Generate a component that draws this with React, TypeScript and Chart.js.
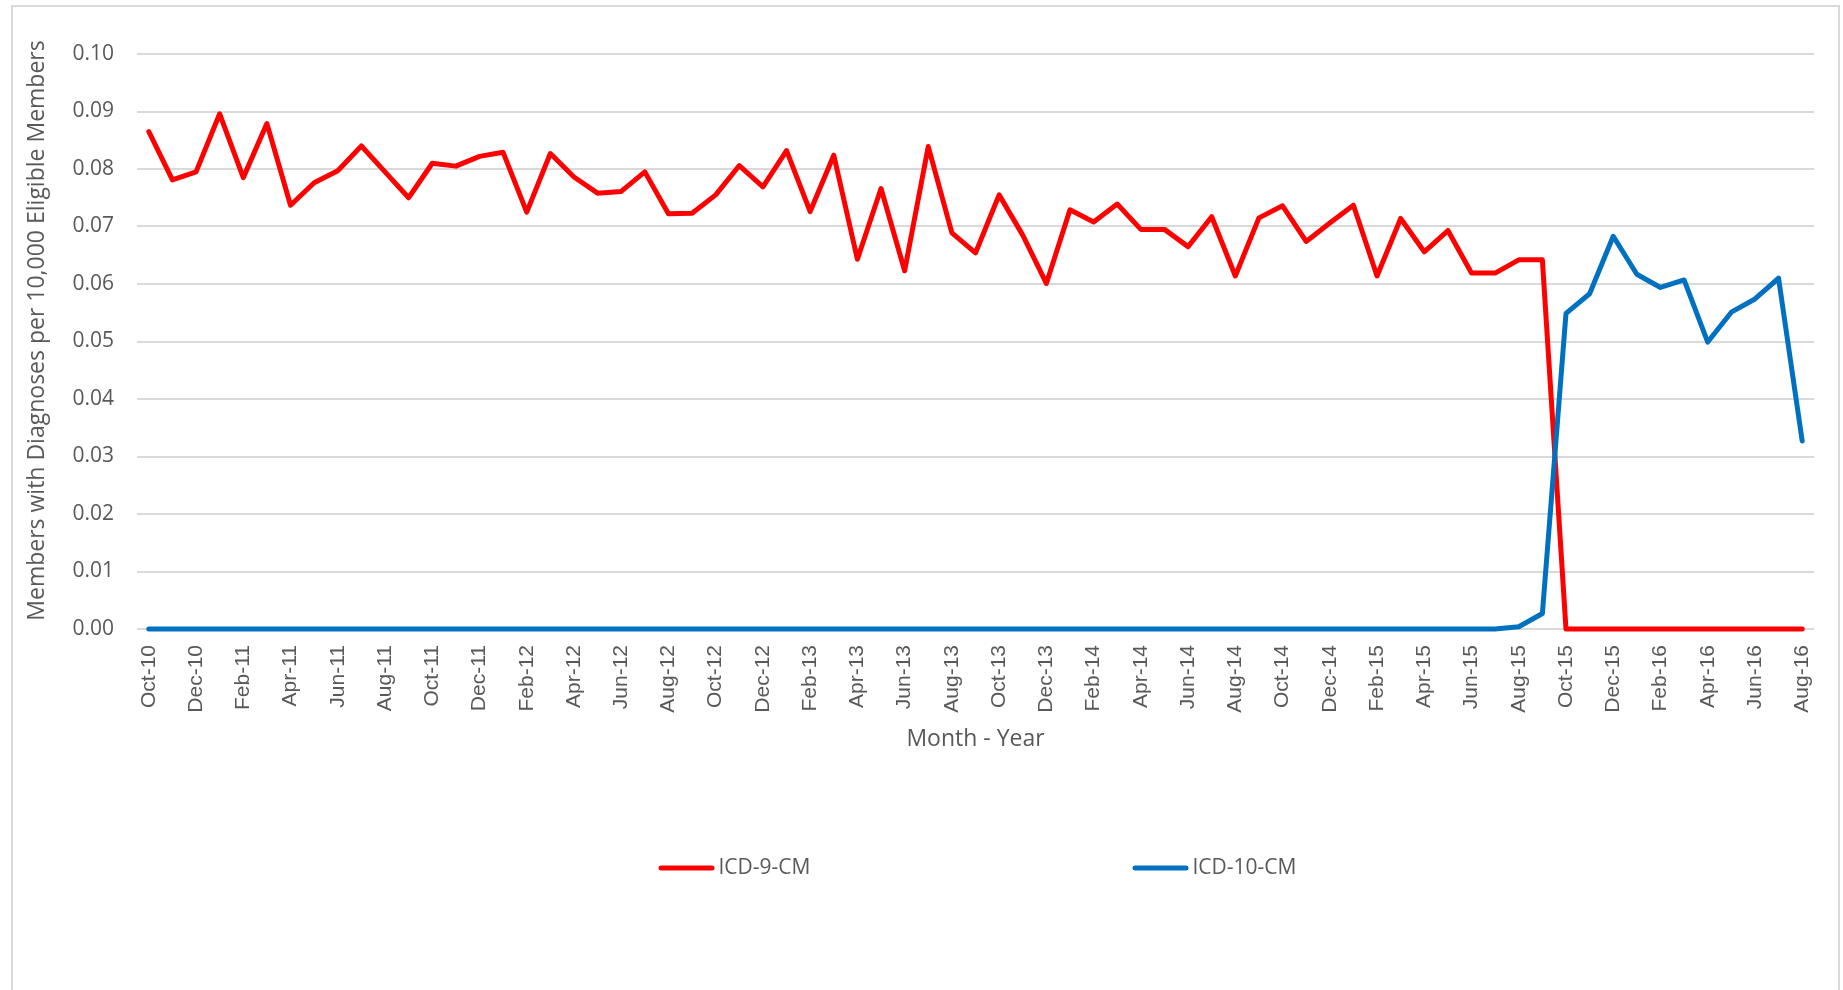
import React, { useEffect, useRef } from 'react';
import { Chart, registerables } from 'chart.js';

Chart.register(...registerables);

const MONTHS = [
  'Oct-10', 'Nov-10', 'Dec-10',
  'Jan-11', 'Feb-11', 'Mar-11', 'Apr-11', 'May-11', 'Jun-11', 'Jul-11', 'Aug-11', 'Sep-11', 'Oct-11', 'Nov-11', 'Dec-11',
  'Jan-12', 'Feb-12', 'Mar-12', 'Apr-12', 'May-12', 'Jun-12', 'Jul-12', 'Aug-12', 'Sep-12', 'Oct-12', 'Nov-12', 'Dec-12',
  'Jan-13', 'Feb-13', 'Mar-13', 'Apr-13', 'May-13', 'Jun-13', 'Jul-13', 'Aug-13', 'Sep-13', 'Oct-13', 'Nov-13', 'Dec-13',
  'Jan-14', 'Feb-14', 'Mar-14', 'Apr-14', 'May-14', 'Jun-14', 'Jul-14', 'Aug-14', 'Sep-14', 'Oct-14', 'Nov-14', 'Dec-14',
  'Jan-15', 'Feb-15', 'Mar-15', 'Apr-15', 'May-15', 'Jun-15', 'Jul-15', 'Aug-15', 'Sep-15', 'Oct-15', 'Nov-15', 'Dec-15',
  'Jan-16', 'Feb-16', 'Mar-16', 'Apr-16', 'May-16', 'Jun-16', 'Jul-16', 'Aug-16',
];

const ICD9_CM = [
  0.0865, 0.0781, 0.0795,
  0.0896, 0.0785, 0.0879, 0.0737, 0.0776, 0.0797, 0.0840, 0.0795, 0.0750, 0.0810, 0.0805, 0.0822,
  0.0829, 0.0725, 0.0827, 0.0786, 0.0758, 0.0761, 0.0795, 0.0722, 0.0723, 0.0755, 0.0806, 0.0769,
  0.0832, 0.0726, 0.0824, 0.0643, 0.0766, 0.0623, 0.0839, 0.0689, 0.0654, 0.0755, 0.0685, 0.0601,
  0.0729, 0.0708, 0.0739, 0.0695, 0.0695, 0.0665, 0.0717, 0.0614, 0.0715, 0.0736, 0.0674, 0.0706,
  0.0737, 0.0614, 0.0714, 0.0656, 0.0693, 0.0619, 0.0619, 0.0642, 0.0642, 0.0, 0.0, 0.0,
  0.0, 0.0, 0.0, 0.0, 0.0, 0.0, 0.0, 0.0,
];

const ICD10_CM = [
  0, 0, 0,
  0, 0, 0, 0, 0, 0, 0, 0, 0, 0, 0, 0,
  0, 0, 0, 0, 0, 0, 0, 0, 0, 0, 0, 0,
  0, 0, 0, 0, 0, 0, 0, 0, 0, 0, 0, 0,
  0, 0, 0, 0, 0, 0, 0, 0, 0, 0, 0, 0,
  0, 0, 0, 0, 0, 0, 0, 0.0004, 0.0027, 0.0549, 0.0583, 0.0683,
  0.0617, 0.0594, 0.0607, 0.0499, 0.0551, 0.0574, 0.0610, 0.0327,
];

const Y_TICKS = [0, 0.01, 0.02, 0.03, 0.04, 0.05, 0.06, 0.07, 0.08, 0.09, 0.1];

const Y_TITLE = 'Members with Diagnoses per 10,000 Eligible Members';
const X_TITLE = 'Month - Year';

const TEXT_COLOR = '#595959';
const GRID_COLOR = '#d9d9d9';

const customDecor = {
  id: 'customDecor',
  afterDraw(chart: any) {
    const { ctx, chartArea } = chart;
    ctx.save();
    // y axis title
    ctx.font = '23px "Open Sans"';
    ctx.fillStyle = TEXT_COLOR;
    ctx.textAlign = 'center';
    ctx.textBaseline = 'middle';
    ctx.save();
    ctx.translate(24, (chartArea.top + chartArea.bottom) / 2 - 11);
    ctx.rotate(-Math.PI / 2);
    ctx.fillText(Y_TITLE, 0, 0);
    ctx.restore();

    // legend
    const cx = (chartArea.left + chartArea.right) / 2;
    const y = chartArea.bottom + 239;
    const items = [
      { ds: 0, x: cx - 317 },
      { ds: 1, x: cx + 157 },
    ];
    ctx.font = '21px "Open Sans"';
    ctx.textBaseline = 'middle';
    ctx.textAlign = 'left';
    items.forEach((it) => {
      const ds = chart.data.datasets[it.ds];
      ctx.strokeStyle = ds.borderColor;
      ctx.lineWidth = 5;
      ctx.lineCap = 'round';
      ctx.beginPath();
      ctx.moveTo(it.x + 2.5, y);
      ctx.lineTo(it.x + 53.5, y);
      ctx.stroke();
      ctx.fillStyle = TEXT_COLOR;
      ctx.fillText(ds.label, it.x + 60, y);
    });
    ctx.restore();
  },
};

export default function App() {
  const ref = useRef<HTMLCanvasElement | null>(null);

  useEffect(() => {
    if (!ref.current) return;
    const chart = new Chart(ref.current, {
      type: 'line',
      data: {
        labels: MONTHS,
        datasets: [
          {
            label: 'ICD-9-CM',
            data: ICD9_CM,
            borderColor: '#FF0000',
            backgroundColor: '#FF0000',
            borderWidth: 5,
            pointRadius: 0,
            tension: 0,
            borderJoinStyle: 'round',
            borderCapStyle: 'round',
            clip: false,
            order: 1,
          },
          {
            label: 'ICD-10-CM',
            data: ICD10_CM,
            borderColor: '#0070C0',
            backgroundColor: '#0070C0',
            borderWidth: 5,
            pointRadius: 0,
            tension: 0,
            borderJoinStyle: 'round',
            borderCapStyle: 'round',
            clip: false,
            order: 0,
          },
        ],
      },
      options: {
        animation: false,
        responsive: true,
        maintainAspectRatio: false,
        events: [],
        layout: { padding: { left: 0, top: 47, right: 24, bottom: 244 } },
        plugins: {
          legend: { display: false },
          tooltip: { enabled: false },
        },
        scales: {
          x: {
            type: 'category',
            offset: true,
            grid: { display: false, drawTicks: false },
            border: { display: false },
            ticks: {
              autoSkip: false,
              maxRotation: 90,
              minRotation: 90,
              padding: 16,
              color: TEXT_COLOR,
              font: { family: 'Liberation Sans', size: 21 },
              callback: (_v: any, i: number) => (i % 2 === 0 ? MONTHS[i] : ''),
            },
            title: {
              display: true,
              text: X_TITLE,
              color: TEXT_COLOR,
              font: { family: 'Open Sans', size: 23 },
              padding: { top: 0, bottom: 6 },
            },
            afterFit: (s: any) => {
              s.height = 130;
              s.paddingLeft = 0;
              s.paddingRight = 0;
            },
          },
          y: {
            min: 0,
            max: 0.1,
            afterBuildTicks: (s: any) => {
              s.ticks = Y_TICKS.map((v) => ({ value: v }));
            },
            ticks: {
              padding: 23,
              color: TEXT_COLOR,
              font: { family: 'Open Sans', size: 21 },
              callback: (v: any) => Number(v).toFixed(2),
            },
            grid: { color: GRID_COLOR, lineWidth: 2, drawTicks: false },
            border: { display: false },
            title: { display: false, text: Y_TITLE },
            afterFit: (s: any) => {
              s.width = 124;
              s.paddingTop = 0;
              s.paddingBottom = 0;
            },
          },
        },
      },
      plugins: [customDecor],
    });
    return () => chart.destroy();
  }, []);

  return (
    <div
      style={{
        position: 'fixed',
        left: 11,
        top: 5,
        width: 1829,
        height: 1000,
        boxSizing: 'border-box',
        border: '2px solid #d9d9d9',
        background: '#ffffff',
      }}
    >
      <div style={{ position: 'relative', width: '100%', height: '100%' }}>
        <canvas ref={ref} />
      </div>
    </div>
  );
}
